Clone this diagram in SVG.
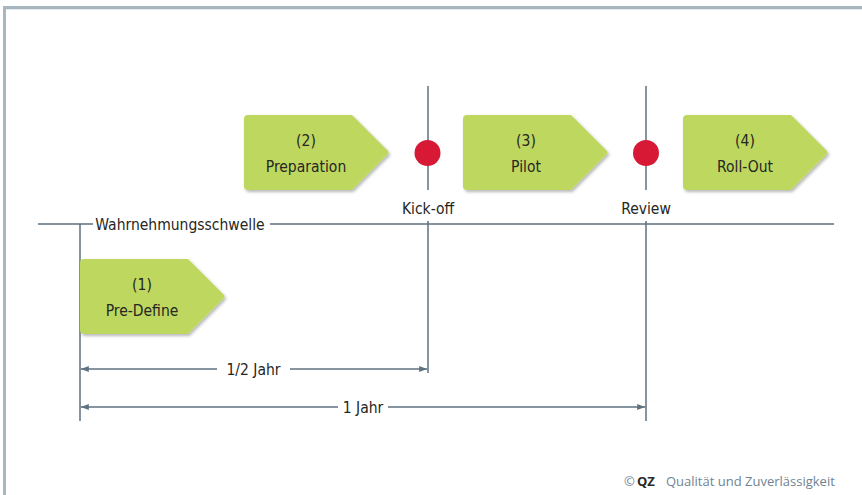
<svg xmlns="http://www.w3.org/2000/svg" width="862" height="495" viewBox="0 0 862 495">
<style>
.ln{stroke:#5d717e;stroke-width:1.5;fill:none}
.lbl{font-family:"DejaVu Sans Condensed","Liberation Sans Narrow","Liberation Sans",sans-serif;font-size:15.5px;fill:#262624;text-anchor:middle;font-stretch:condensed}
.shape{fill:#bdd75e;filter:url(#sh)}
.dot{fill:#d81935}
.foot{font-family:"Open Sans","Liberation Sans",sans-serif;font-size:13px;fill:#6f8391}
</style>
<defs>
<filter id="sh" x="-10%" y="-10%" width="130%" height="130%">
<feDropShadow dx="1.5" dy="2" stdDeviation="1.8" flood-color="#000" flood-opacity="0.28"/>
</filter>
<path id="pent" d="M4,0 L108,0 L144,36 Q145,37.5 144,39 L108,75 L4,75 Q0,75 0,71 L0,4 Q0,0 4,0 Z"/>
<marker id="ah" viewBox="0 0 8 6" refX="8" refY="3" markerWidth="8" markerHeight="6" markerUnits="userSpaceOnUse" orient="auto-start-reverse">
<path d="M0,0 L8,3 L0,6 Z" fill="#5d717e"/>
</marker>
</defs>
<rect x="3" y="6" width="859" height="3.3" fill="#a8b6c0"/>
<rect x="3" y="6" width="3" height="489" fill="#a8b6c0"/>
<g id="connectors">
<line class="ln" x1="38" y1="224" x2="93" y2="224"/>
<line class="ln" x1="270" y1="224" x2="834" y2="224"/>
<line class="ln" x1="80" y1="224" x2="80" y2="421"/>
<line class="ln" x1="428" y1="86" x2="428" y2="190"/>
<line class="ln" x1="428" y1="221" x2="428" y2="373"/>
<line class="ln" x1="646" y1="86" x2="646" y2="190"/>
<line class="ln" x1="646" y1="221" x2="646" y2="421"/>
<line class="ln" x1="80.8" y1="369" x2="217" y2="369" marker-start="url(#ah)"/>
<line class="ln" x1="290" y1="369" x2="427.2" y2="369" marker-end="url(#ah)"/>
<line class="ln" x1="80.8" y1="407" x2="338" y2="407" marker-start="url(#ah)"/>
<line class="ln" x1="388" y1="407" x2="645.2" y2="407" marker-end="url(#ah)"/>
<text class="lbl" x="180" y="230">Wahrnehmungsschwelle</text>
<text class="lbl" x="253.5" y="375">1/2 Jahr</text>
<text class="lbl" x="363" y="413">1 Jahr</text>
</g>
<g id="n1">
<use href="#pent" class="shape" transform="translate(80,259)"/>
<text class="lbl" x="142" y="289.5">(1)</text>
<text class="lbl" x="142" y="315.5">Pre-Define</text>
</g>
<g id="n2">
<use href="#pent" class="shape" transform="translate(244,115)"/>
<text class="lbl" x="306" y="145.5">(2)</text>
<text class="lbl" x="306" y="171.5">Preparation</text>
</g>
<g id="n3">
<use href="#pent" class="shape" transform="translate(463,115)"/>
<text class="lbl" x="526" y="145.5">(3)</text>
<text class="lbl" x="526" y="171.5">Pilot</text>
</g>
<g id="n4">
<use href="#pent" class="shape" transform="translate(683,115)"/>
<text class="lbl" x="745" y="145.5">(4)</text>
<text class="lbl" x="745" y="171.5">Roll-Out</text>
</g>
<g id="kickoff">
<circle class="dot" cx="427.5" cy="153" r="13"/>
<text class="lbl" x="428" y="214">Kick-off</text>
</g>
<g id="review">
<circle class="dot" cx="646" cy="153" r="13"/>
<text class="lbl" x="646" y="214">Review</text>
</g>
<g id="footer">
<text class="foot" x="624" y="486">©</text>
<text class="foot" x="637" y="486" style="font-weight:bold;fill:#2a2a28">QZ</text>
<text class="foot" x="666" y="486">Qualität und Zuverlässigkeit</text>
</g>
</svg>
